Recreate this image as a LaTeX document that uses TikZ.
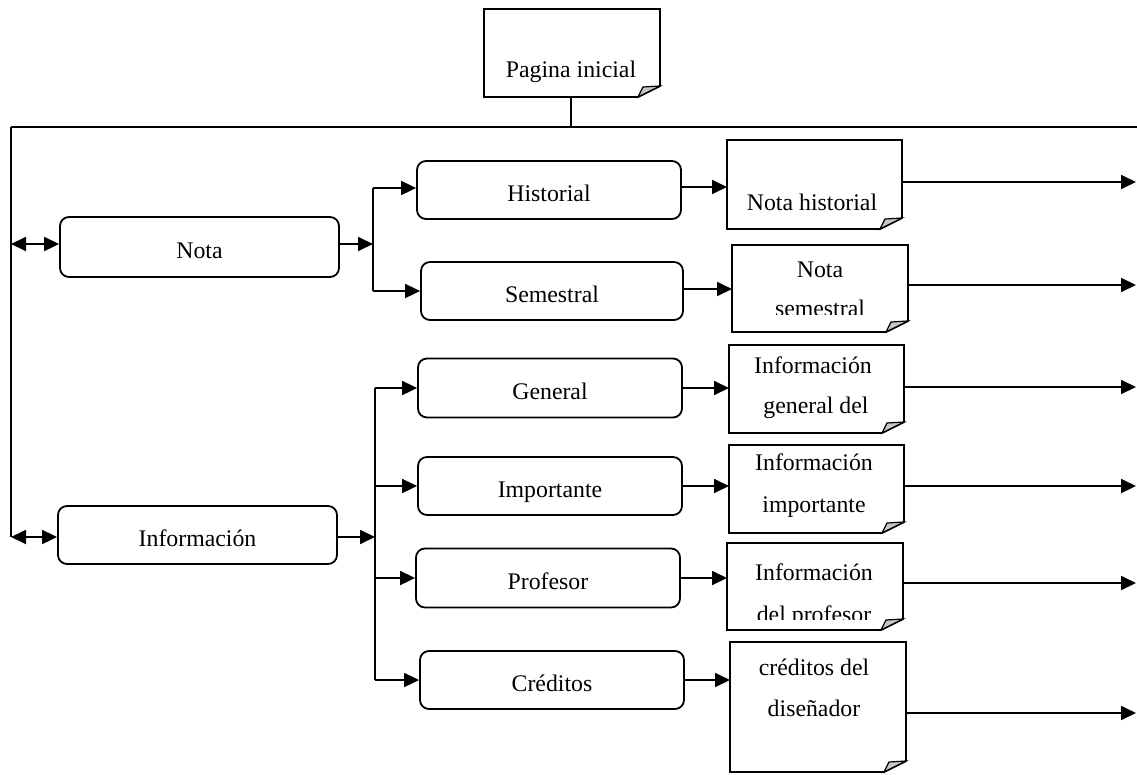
\documentclass[tikz,border=0pt]{standalone}
\usepackage{fontspec}
\setmainfont{Liberation Serif}
\usetikzlibrary{arrows.meta}
\newcommand\docshape[1]{%
  \draw (#1.north west) -- (#1.north east) -- ([yshift=11pt]#1.south east)
    -- ([xshift=-22pt]#1.south east) -- (#1.south west) -- cycle;
  \filldraw[fold] ([yshift=11pt]#1.south east) -- ([xshift=-22pt]#1.south east)
    -- ([xshift=-17pt,yshift=10pt]#1.south east) -- cycle;}
\begin{document}
\begin{tikzpicture}[x=1pt,y=-1pt, line width=1.8pt,
  every node/.style={font=\fontsize{23.8}{28}\selectfont},
  rbox/.style={draw, rounded corners=9pt, inner sep=0pt, text height=23pt, text depth=0pt},
  docph/.style={inner sep=0pt, outer sep=0pt},
  dtext/.style={anchor=base, inner sep=0pt},
  arr/.style={-{Triangle[length=15pt,width=14pt]}},
  darr/.style={{Triangle[length=15pt,width=14pt]}-{Triangle[length=15pt,width=14pt]}},
  fold/.style={fill=gray!45, line width=1.2pt}]
\useasboundingbox (0,0) rectangle (1137,774);

% ---- document shapes (placeholders)
\node[docph, minimum width=176pt, minimum height=88pt] (PI) at (572,53) {};
\node[docph, minimum width=175pt, minimum height=89pt] (NH) at (814.5,184.5) {};
\node[docph, minimum width=176pt, minimum height=87pt] (NS) at (820,288.5) {};
\node[docph, minimum width=175pt, minimum height=88pt] (IG) at (816.5,389) {};
\node[docph, minimum width=175pt, minimum height=88pt] (II) at (816.5,489) {};
\node[docph, minimum width=176pt, minimum height=87pt] (IP) at (815,586.5) {};
\node[docph, minimum width=176pt, minimum height=130pt] (IC) at (818,707) {};
\docshape{PI}
\docshape{NH}
\docshape{NS}
\docshape{IG}
\docshape{II}
\docshape{IP}
\docshape{IC}

% ---- document texts
\node[dtext] (PI-t) at (571,77) {Pagina inicial};
\node[dtext] (NH-t) at (812,210) {Nota historial};
\node[dtext] (NS-t1) at (820,277) {Nota};
\begin{scope}
  \clip (732,245) rectangle (908,314);
  \node[dtext] (NS-t2) at (820,316) {semestral};
\end{scope}
\node[dtext] (IG-t1) at (813,373) {Información};
\node[dtext] (IG-t2) at (816,413) {general del};
\node[dtext] (II-t1) at (814,470) {Información};
\node[dtext] (II-t2) at (814,512) {importante};
\node[dtext] (IP-t1) at (814,580) {Información};
\begin{scope}
  \clip (727,543) rectangle (903,619);
  \node[dtext] (IP-t2) at (814,622) {del profesor};
\end{scope}
\node[dtext] (IC-t1) at (814,675) {créditos del};
\node[dtext] (IC-t2) at (814,716) {diseñador};

% ---- rounded boxes
\node[rbox, minimum width=279pt, minimum height=60pt] (Nota) at (199.5,247) {Nota};
\node[rbox, minimum width=279pt, minimum height=58pt] (Info) at (197.5,535) {Información};
\node[rbox, minimum width=264pt, minimum height=58pt] (Hist) at (549,190) {Historial};
\node[rbox, minimum width=262pt, minimum height=58pt] (Sem) at (552,291) {Semestral};
\node[rbox, minimum width=264pt, minimum height=59pt] (Gen) at (550,388) {General};
\node[rbox, minimum width=264pt, minimum height=58pt] (Imp) at (550,486) {Importante};
\node[rbox, minimum width=264pt, minimum height=59pt] (Prof) at (548,578) {Profesor};
\node[rbox, minimum width=264pt, minimum height=58pt] (Cred) at (552,680) {Créditos};

% ---- coordinates
\coordinate (tl) at (11,127);
\coordinate (tr) at (1137,127);
\coordinate (tm) at (571,127);
\coordinate (ln) at (11,244);
\coordinate (li) at (11,537);
\coordinate (j1) at (373,244);
\coordinate (j2) at (375,537);
\coordinate (r1) at (1136,182);
\coordinate (r2) at (1136,285);
\coordinate (r3) at (1136,387);
\coordinate (r4) at (1136,486);
\coordinate (r5) at (1136,583);
\coordinate (r6) at (1136,713);

% ---- top structure
\draw (PI.south -| tm) -- (tm);
\draw (tl) -- (tr);
\draw (tl) -- (li);

% ---- left double arrows
\draw[darr] (ln) -- (ln -| Nota.west);
\draw[darr] (li) -- (li -| Info.west);

% ---- Nota branch
\draw[arr] (j1 -| Nota.east) -- (j1);
\draw ([yshift=2pt]Hist.west -| j1) -- (Sem.west -| j1);
\draw[arr] ([yshift=2pt]Hist.west -| j1) -- ([yshift=2pt]Hist.west);
\draw[arr] (Sem.west -| j1) -- (Sem.west);

% ---- Informacion branch
\draw[arr] (j2 -| Info.east) -- (j2);
\draw (Gen.west -| j2) -- (Cred.west -| j2);
\draw[arr] (Gen.west -| j2) -- (Gen.west);
\draw[arr] (Imp.west -| j2) -- (Imp.west);
\draw[arr] (Prof.west -| j2) -- (Prof.west);
\draw[arr] (Cred.west -| j2) -- (Cred.west);

% ---- middle to documents
\draw[arr] ([yshift=3pt]Hist.east) -- ([yshift=3pt]Hist.east -| NH.west);
\draw[arr] ([yshift=2pt]Sem.east) -- ([yshift=2pt]Sem.east -| NS.west);
\draw[arr] (Gen.east) -- (Gen.east -| IG.west);
\draw[arr] (Imp.east) -- (Imp.east -| II.west);
\draw[arr] (Prof.east) -- (Prof.east -| IP.west);
\draw[arr] (Cred.east) -- (Cred.east -| IC.west);

% ---- documents to right edge
\draw[arr] (r1 -| NH.east) -- (r1);
\draw[arr] (r2 -| NS.east) -- (r2);
\draw[arr] (r3 -| IG.east) -- (r3);
\draw[arr] (r4 -| II.east) -- (r4);
\draw[arr] (r5 -| IP.east) -- (r5);
\draw[arr] (r6 -| IC.east) -- (r6);
\end{tikzpicture}
\end{document}
